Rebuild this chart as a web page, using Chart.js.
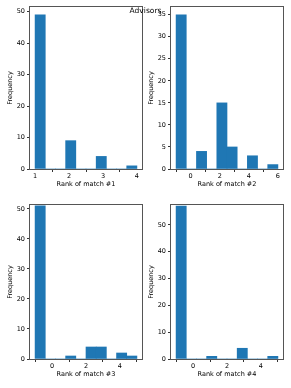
<!DOCTYPE html>
<html>
<head>
<meta charset="utf-8">
<script src="https://cdn.jsdelivr.net/npm/chart.js@4.4.0/dist/chart.umd.min.js"></script>
<style>
  body { margin: 0; background: #fff; width: 291px; height: 388px; position: relative; overflow: hidden; }
  canvas { position: absolute; }
  #title { position: absolute; left: 0; width: 291px; top: 6px; text-align: center;
           font: 7.5px 'DejaVu Sans', sans-serif; color: #000; z-index: 5; }
</style>
</head>
<body>
<div id="title">Advisors</div>
<canvas id="c1" width="145" height="190" style="left:0px;top:0px"></canvas>
<canvas id="c2" width="145" height="190" style="left:141px;top:0px"></canvas>
<canvas id="c3" width="145" height="182" style="left:0px;top:198px"></canvas>
<canvas id="c4" width="145" height="182" style="left:141px;top:198px"></canvas>
<script>
// histogram bin centres and counts
var bins1 = [1.15, 1.45, 1.75, 2.05, 2.35, 2.65, 2.95, 3.25, 3.55, 3.85];
var counts1 = [49, 0, 0, 9, 0, 0, 4, 0, 0, 1];
var bins2 = [-0.65, 0.05, 0.75, 1.45, 2.15, 2.85, 3.55, 4.25, 4.95, 5.65];
var counts2 = [35, 0, 4, 0, 15, 5, 0, 3, 0, 1];
var bins3 = [-0.7, -0.1, 0.5, 1.1, 1.7, 2.3, 2.9, 3.5, 4.1, 4.7];
var counts3 = [51, 0, 0, 1, 0, 4, 4, 0, 2, 1];
var bins4 = [-0.7, -0.1, 0.5, 1.1, 1.7, 2.3, 2.9, 3.5, 4.1, 4.7];
var counts4 = [57, 0, 0, 1, 0, 0, 4, 0, 0, 1];

var xTicks1 = [1, 2, 3, 4];
var xTicks2 = [0, 2, 4, 6];
var xTicks3 = [0, 2, 4];
var xTicks4 = [0, 2, 4];
var yTicks1 = [0, 10, 20, 30, 40, 50];
var yTicks2 = [0, 5, 10, 15, 20, 25, 30, 35];
var yTicks3 = [0, 10, 20, 30, 40, 50];
var yTicks4 = [0, 10, 20, 30, 40, 50];

var xLabels = ['Rank of match #1', 'Rank of match #2', 'Rank of match #3', 'Rank of match #4'];

var font = { family: 'DejaVu Sans', size: 6.5 };

// matplotlib-like box around the axes
var frame = {
  id: 'frame',
  afterDraw: function (chart) {
    var a = chart.chartArea, ctx = chart.ctx;
    ctx.save();
    ctx.strokeStyle = '#555';
    ctx.lineWidth = 1;
    ctx.strokeRect(Math.round(a.left) - 0.5, Math.round(a.top) - 0.5,
                   Math.round(a.right - a.left) + 1, Math.round(a.bottom - a.top) + 1);
    ctx.restore();
  }
};

function hist(id, bins, counts, xTicks, yTicks, xmin, xmax, ymax, xLabel) {
  var pts = bins.map(function (b, i) { return { x: b, y: counts[i] }; });
  return new Chart(document.getElementById(id), {
    type: 'bar',
    data: {
      datasets: [{
        data: pts,
        backgroundColor: '#1f77b4',
        borderWidth: 0,
        barPercentage: 1,
        categoryPercentage: 1
      }]
    },
    options: {
      responsive: false,
      animation: false,
      layout: { padding: { top: 7, right: 3, left: 0, bottom: 0 } },
      plugins: { legend: { display: false }, tooltip: { enabled: false } },
      scales: {
        x: {
          type: 'linear',
          min: xmin, max: xmax,
          offset: false,
          afterBuildTicks: function (s) { s.ticks = xTicks.map(function (v) { return { value: v }; }); },
          afterFit: function (s) { s.height = 21; },
          grid: { display: true, drawOnChartArea: false, tickLength: 3, color: '#333' },
          border: { display: false },
          ticks: { font: font, color: '#000', padding: 0, maxRotation: 0, autoSkip: false },
          title: { display: true, text: xLabel, font: font, color: '#000', padding: { top: 0, bottom: 2 } }
        },
        y: {
          min: 0, max: ymax,
          afterBuildTicks: function (s) { s.ticks = yTicks.map(function (v) { return { value: v }; }); },
          afterFit: function (s) { s.width = 30; },
          grid: { display: true, drawOnChartArea: false, tickLength: 3, color: '#333' },
          border: { display: false },
          ticks: { font: font, color: '#000', padding: 2 },
          title: { display: true, text: 'Frequency', font: font, color: '#000', padding: { top: 6, bottom: 0 } }
        }
      }
    },
    plugins: [frame]
  });
}

hist('c1', bins1, counts1, xTicks1, yTicks1, 0.85, 4.15, 51.45, xLabels[0]);
hist('c2', bins2, counts2, xTicks2, yTicks2, -1.35, 6.35, 36.75, xLabels[1]);
hist('c3', bins3, counts3, xTicks3, yTicks3, -1.3, 5.3, 51.3, xLabels[2]);
hist('c4', bins4, counts4, xTicks4, yTicks4, -1.3, 5.3, 57.4, xLabels[3]);
</script>
</body>
</html>
